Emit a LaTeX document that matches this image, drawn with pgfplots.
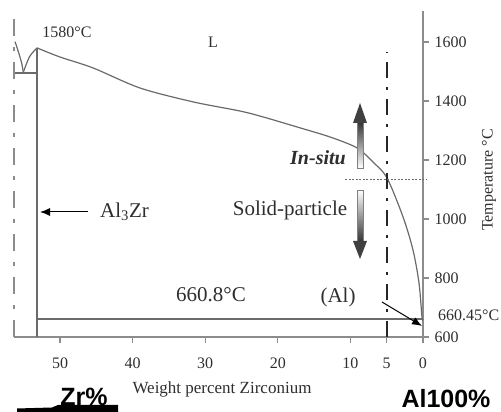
\documentclass[border=0pt]{standalone}
\usepackage{pgfplots}
\pgfplotsset{compat=1.18}
\usepackage{fontspec}
\setmainfont{Liberation Serif}
\newfontfamily\arialfont{Liberation Sans}
\usetikzlibrary{arrows.meta}

\definecolor{curvegray}{HTML}{6A6A6A}
\definecolor{axisgray}{HTML}{8C8C8C}
\definecolor{labelgray}{HTML}{2E2E2E}

\begin{document}
\begin{tikzpicture}
\begin{axis}[
    at={(0pt,0pt)}, anchor=south west,
    scale only axis, width=409pt, height=326pt,
    xmin=0, xmax=56.34, x dir=reverse,
    ymin=600, ymax=1705,
    clip=false,
    separate axis lines,
    axis x line*=bottom,
    axis y line*=right,
    axis line style={axisgray, line width=1.4pt, -},
    xtick={0,5,10,20,30,40,50},
    ytick={600,800,...,1600},
    tick align=outside,
    major tick length=6pt,
    tick style={axisgray, line width=1.2pt},
    ticklabel style={font=\fontsize{16}{18}\selectfont, text=labelgray},
    /pgf/number format/assume math mode=true,
    /pgf/number format/set thousands separator={},
    x tick label style={yshift=-11pt},
    y tick label style={xshift=2pt},
]
% liquidus, Al3Zr peak to pure Al
\addplot[curvegray, line width=1.2pt, smooth, tension=0.5] coordinates {
    (53.17,1580) (50.0,1549) (45.45,1512) (38.98,1444) (31.68,1397)
    (25.21,1366) (22.04,1346) (17.36,1312) (12.81,1278) (9.09,1241)
    (6.89,1193) (4.96,1139) (2.75,1007) (1.38,895) (0.55,783)
    (0.14,668) (0,660.45)
};
% Zr-rich side of the peak
\addplot[curvegray, line width=1.2pt, smooth] coordinates {
    (56.20,1601) (55.74,1567) (55.28,1528) (55.06,1497)
};
\addplot[curvegray, line width=1.2pt, smooth] coordinates {
    (55.06,1497) (54.2,1550) (53.17,1580)
};
% eutectic line
\addplot[curvegray, line width=1.2pt] coordinates {(56.34,1495) (53.17,1495)};
% Al3Zr line
\addplot[curvegray, line width=1.4pt] coordinates {(53.17,1580) (53.17,600)};
% peritectic 660.8
\addplot[curvegray, line width=1.4pt] coordinates {(53.17,660.8) (0,660.8)};
% left dashed line
\addplot[axisgray, line width=1.4pt, dash pattern=on 17pt off 11pt on 4pt off 11pt]
    coordinates {(56.34,600) (56.34,1692)};
% 5 wt% line
\addplot[black!85, line width=1.6pt, dash pattern=on 16pt off 9pt on 3pt off 9pt]
    coordinates {(5,600) (5,1566)};
% dotted 1135 line
\addplot[curvegray, line width=0.9pt, dash pattern=on 2pt off 1.5pt]
    coordinates {(10.74,1135) (-0.55,1135)};
\end{axis}

\begin{scope}[shift={(-14pt,337pt)}, x=1pt, y=-1pt]
    \node[font=\fontsize{16}{18}\selectfont, text=labelgray] at (67,32) {1580°C};
    \node[font=\fontsize{16}{18}\selectfont, text=labelgray] at (213,42) {L};
    \node[font=\fontsize{20}{22}\selectfont\bfseries\itshape, text=labelgray] at (318,158) {In-situ};
    \node[font=\fontsize{21}{24}\selectfont, text=labelgray] at (290,210) {Solid-particle};
    \node[font=\fontsize{21}{24}\selectfont, text=labelgray, anchor=west, inner sep=0pt] at (100,212) {Al\textsubscript{3}Zr};
    \draw[-{Latex[length=10pt,width=8pt]}, line width=1pt] (88,212) -- (40,212);
    \node[font=\fontsize{21}{24}\selectfont, text=labelgray] at (211,295) {660.8°C};
    \node[font=\fontsize{21}{24}\selectfont, text=labelgray] at (338,297) {(Al)};
    \draw[-{Latex[length=10pt,width=8pt]}, line width=1pt] (382,302) -- (422,326);
    \node[font=\fontsize{16}{18}\selectfont, text=labelgray, anchor=west, inner sep=0pt] at (438,315) {660.45°C};
    \node[font=\fontsize{17}{19}\selectfont, text=labelgray] at (222,389) {Weight percent Zirconium};
    \node[font=\fontsize{16}{18}\selectfont, text=labelgray, rotate=90] at (489,180) {Temperature °C};
    \node[font=\arialfont\bfseries\fontsize{25}{28}\selectfont] at (84,397) {Zr\%};
    \node[font=\arialfont\bfseries\fontsize{25}{28}\selectfont] at (446,399) {Al100\%};
    \fill (17,413) -- (17,408.5) -- (52,407.5) -- (58,405) -- (118,405) -- (118,413) -- cycle;
    % gradient arrows
    \shade[top color=black!80, bottom color=white, draw=gray, line width=0.6pt] (357,168) rectangle (363,122);
    \fill[black!75] (353,123) -- (367,123) -- (360,103) -- cycle;
    \shade[top color=white, bottom color=black!80, draw=gray, line width=0.6pt] (357,190) rectangle (363,242);
    \fill[black!75] (353,241) -- (367,241) -- (360,259) -- cycle;
    \pgfresetboundingbox
    \path[use as bounding box] (0,0) rectangle (501,412);
\end{scope}
\end{tikzpicture}
\end{document}
